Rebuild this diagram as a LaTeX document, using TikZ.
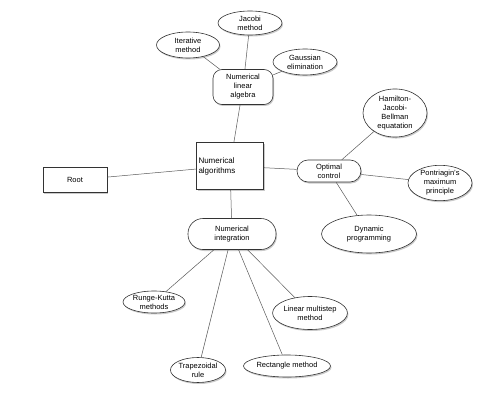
\documentclass[tikz,border=0pt]{standalone}
\usepackage{fontspec}
\setmainfont{Liberation Sans}
\usetikzlibrary{shapes.geometric,shadows}
\begin{document}
\begin{tikzpicture}[x=1pt,y=-1pt,
  every node/.style={font=\fontsize{7.5}{9}\selectfont, align=center, inner sep=0pt},
  shad/.style={drop shadow={shadow xshift=1pt, shadow yshift=-1.5pt, fill=black!35, opacity=0.6}},
  ell/.style={ellipse, draw=black!80, line width=0.6pt, fill=white, shad},
  rbox/.style={rectangle, draw=black!80, line width=0.6pt, fill=white, shad},
  conn/.style={draw=black!65, line width=0.5pt}]
\useasboundingbox (0,0) rectangle (500,401);
% nodes
\node[rbox, minimum width=67pt, minimum height=47pt, font=\fontsize{8}{10}\selectfont, align=left] (na) at (230,166) {\makebox[63pt][l]{Numerical}\\algorithms};
\node[rbox, minimum width=64pt, minimum height=25pt] (root) at (75,180) {Root};
\node[rbox, rounded corners=9pt, minimum width=60pt, minimum height=35pt] (nla) at (243,87) {Numerical\\linear\\algebra};
\node[ell, minimum width=63pt, minimum height=26pt] (iter) at (188,45) {Iterative\\method};
\node[ell, minimum width=64pt, minimum height=24pt] (jac) at (250,23) {Jacobi\\method};
\node[ell, minimum width=64pt, minimum height=26pt] (gauss) at (305,62) {Gaussian\\elimination};
\node[rbox, rounded corners=11pt, minimum width=64pt, minimum height=22pt] (oc) at (329,171) {Optimal\\control};
\node[ell, minimum width=64pt, minimum height=40pt] (hjb) at (395,113) {Hamilton-\\Jacobi-\\Bellman\\equatation};
\node[ell, minimum width=64pt, minimum height=30pt] (pont) at (440,183) {Pontriagin's\\maximum\\principle};
\node[ell, minimum width=95pt, minimum height=38pt] (dyn) at (369,234) {Dynamic\\programming};
\node[rbox, rounded corners=15pt, minimum width=88pt, minimum height=31pt] (ni) at (232,234) {Numerical\\integration};
\node[ell, minimum width=62pt, minimum height=22pt] (rk) at (154,302) {Runge-Kutta\\methods};
\node[ell, minimum width=66pt, minimum height=33pt] (lm) at (310,313) {Linear multistep\\method};
\node[ell, minimum width=54pt, minimum height=25pt] (trap) at (198,370) {Trapezoidal\\rule};
\node[ell, minimum width=87pt, minimum height=22pt] (rect) at (287,366) {Rectangle method};
% connectors
\path[conn] (iter) -- (nla);
\path[conn] (jac) -- (nla);
\path[conn] (gauss) -- (nla);
\path[conn] (nla) -- (na);
\path[conn] (root) -- (na);
\path[conn] (na) -- (oc);
\path[conn] (oc) -- (hjb);
\path[conn] (oc) -- (pont);
\path[conn] (oc) -- (dyn);
\path[conn] (na) -- (ni);
\path[conn] (ni) -- (rk);
\path[conn] (ni) -- (trap);
\path[conn] (ni) -- (rect);
\path[conn] (ni) -- (lm);
\end{tikzpicture}
\end{document}
